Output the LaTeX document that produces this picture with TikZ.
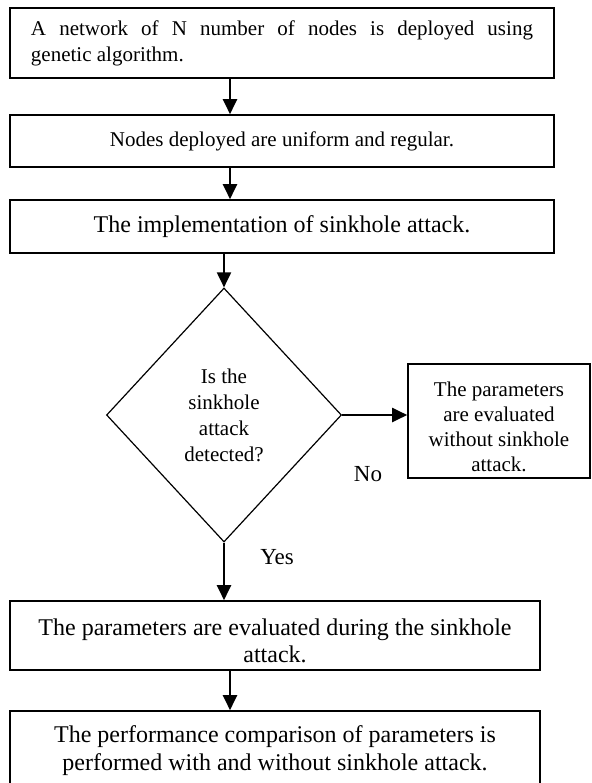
\documentclass[tikz,border=0pt]{standalone}
\usepackage{fontspec}
\setmainfont{Liberation Serif}
\usetikzlibrary{shapes.geometric,arrows.meta}
\tikzset{
	flowbox/.style={draw,line width=0.8pt,align=center,inner sep=0pt},
	smalltxt/.style={font=\fontsize{10.5}{13}\selectfont},
	bigtxt/.style={font=\fontsize{12}{13.8}\selectfont},
	arr/.style={line width=1pt,-{Triangle[width=7pt,length=7.5pt]}}
}
\begin{document}
\begin{tikzpicture}[x=0.5pt,y=-0.5pt]
		\useasboundingbox (0,0) rectangle (591,783);
		\clip (0,0) rectangle (591,783);
		\node[flowbox,smalltxt,minimum width=272pt,minimum height=35pt,text width=251pt,align=justify] (deploy) at (282,43) {A network of N number of nodes is deployed using\linebreak genetic algorithm.};
		\node[flowbox,smalltxt,minimum width=272pt,minimum height=26pt] (uniform) at (282,141) {Nodes deployed are uniform and regular.};
		\node[flowbox,bigtxt,minimum width=272pt,minimum height=26.5pt] (attack) at (282,226.5) {The implementation of sinkhole attack.};
		\node[draw,shape=diamond,line width=0.6pt,inner sep=0pt,minimum width=117.5pt,minimum height=127pt,smalltxt,align=center] (detect) at (224,415) {Is the\\sinkhole\\attack\\detected?};
		\node[flowbox,font=\fontsize{10.5}{12.5}\selectfont,minimum width=91pt,minimum height=57pt] (without) at (499,421) {\rule{0pt}{13.5pt}The parameters\\are evaluated\\without sinkhole\\attack.};
		\node[flowbox,bigtxt,minimum width=265pt,minimum height=34.5pt] (during) at (275,635.5) {\rule{0pt}{13.5pt}The parameters are evaluated during the sinkhole\\attack.};
		\node[flowbox,bigtxt,minimum width=265pt,minimum height=39.5pt] (compare) at (275,750.5) {The performance comparison of parameters is\\performed with and without sinkhole attack.};
		\node[font=\fontsize{11.5}{13}\selectfont] (no) at (368,474) {No};
		\node[font=\fontsize{11.5}{13}\selectfont] (yes) at (277,557) {Yes};
		\draw[arr] ([xshift=-26pt]deploy.south) -- ([xshift=-26pt]uniform.north);
		\draw[arr] ([xshift=-26pt]uniform.south) -- ([xshift=-26pt]attack.north);
		\draw[arr] (attack.south -| detect.north) -- (detect.north);
		\draw[arr] (detect.east) -- (detect.east -| without.west);
		\draw[arr] (detect.south) -- (detect.south |- during.north);
		\draw[arr] ([xshift=-22.5pt]during.south) -- ([xshift=-22.5pt]compare.north);
\end{tikzpicture}
\end{document}
